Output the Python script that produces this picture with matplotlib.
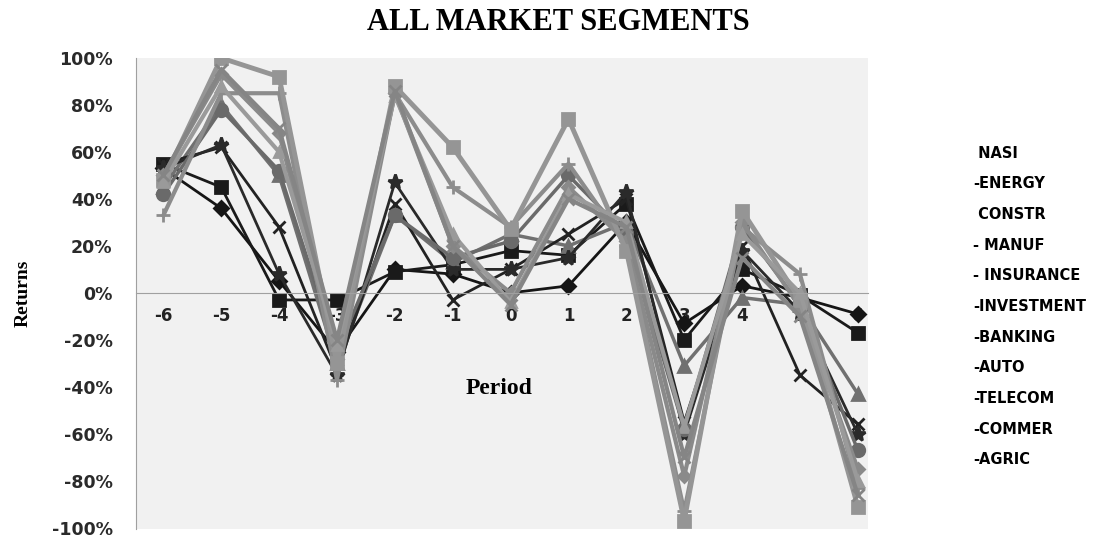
import matplotlib
matplotlib.use("Agg")
import matplotlib.pyplot as plt
from matplotlib.ticker import FuncFormatter

plt.rcParams["axes.unicode_minus"] = False

# periods around the event
periods = [-6, -5, -4, -3, -2, -1, 0, 1, 2, 3, 4, 5, 6]

# returns in %
nasi = [53, 36, 5, -25, 10, 8, 0, 3, 30, -13, 3, -2, -9]
energy = [55, 45, -3, -3, 9, 12, 18, 16, 38, -20, 10, -1, -17]
constr = [45, 80, 50, -30, 33, 13, 25, 20, 30, -31, -2, -5, -43]
manuf = [55, 62, 28, -33, 38, -3, 10, 25, 40, -55, 20, -35, -56]
insurance = [53, 63, 8, -35, 47, 10, 10, 15, 43, -60, 18, -8, -60]
investment = [42, 78, 52, -25, 33, 15, 22, 50, 25, -58, 28, -5, -67]
banking = [33, 85, 85, -37, 85, 45, 28, 55, 20, -93, 28, 8, -83]
auto = [50, 93, 68, -28, 85, 20, 0, 45, 22, -78, 30, -6, -75]
telecom = [48, 100, 92, -30, 88, 62, 27, 74, 18, -97, 35, -3, -91]
commer = [47, 88, 60, -22, 84, 25, -4, 42, 30, -57, 25, 0, -80]
agric = [50, 95, 70, -20, 86, 20, -5, 40, 28, -70, 15, -10, -86]

segments = ["NASI", "ENERGY", "CONSTR", "MANUF", "INSURANCE", "INVESTMENT",
            "BANKING", "AUTO", "TELECOM", "COMMER", "AGRIC"]
legendText = [" NASI", "-ENERGY", " CONSTR", "- MANUF", "- INSURANCE",
              "-INVESTMENT", "-BANKING", "-AUTO", "-TELECOM", "-COMMER", "-AGRIC"]
allSeries = [nasi, energy, constr, manuf, insurance, investment,
             banking, auto, telecom, commer, agric]

# excel-like marker cycle, printed in grey
styles = [
  ("D", "#151515", 2.0, 7),
  ("s", "#1a1a1a", 2.0, 8),
  ("^", "#707070", 2.5, 8),
  ("x", "#222222", 2.0, 9),
  ("*", "#2a2a2a", 2.0, 11),
  ("o", "#6a6a6a", 2.5, 9),
  ("+", "#8c8c8c", 3.0, 10),
  ("D", "#8a8a8a", 3.0, 6),
  ("s", "#959595", 3.5, 9),
  ("^", "#9a9a9a", 3.0, 7),
  ("x", "#858585", 3.0, 8),
]

fig = plt.figure(figsize=(11.16, 5.37), dpi=100)
ax = fig.add_axes([0.122, 0.015, 0.656, 0.877])
ax.set_facecolor("#f1f1f1")

for i in range(len(allSeries)):
  m, c, lw, ms = styles[i]
  vals = [v / 100 for v in allSeries[i]]
  ax.plot(periods, vals, marker=m, color=c, lw=lw, ms=ms,
          mew=2, label=segments[i])

ax.set_xlim(-6.47, 6.18)
ax.set_ylim(-1.005, 1.0)
ax.set_yticks([-1, -0.8, -0.6, -0.4, -0.2, 0, 0.2, 0.4, 0.6, 0.8, 1.0])
ax.yaxis.set_major_formatter(FuncFormatter(lambda v, p: f"{v*100:.0f}%"))
ax.set_xticks(periods)

# x axis sits on the zero line
ax.spines["bottom"].set_position(("data", 0))
ax.spines["bottom"].set_color("#a0a0a0")
ax.spines["left"].set_color("#a0a0a0")
ax.spines["top"].set_visible(False)
ax.spines["right"].set_visible(False)
ax.tick_params(axis="both", length=0)
ax.tick_params(axis="x", pad=10, labelsize=12, labelcolor="#222222")
ax.tick_params(axis="y", pad=17, labelsize=12.5, labelcolor="#2a2a2a")
for lab in ax.get_xticklabels() + ax.get_yticklabels():
  lab.set_fontweight("bold")

ax.text(-0.2, -0.405, "Period", ha="center", va="center",
        fontsize=17, fontweight="bold", family="Liberation Serif")
fig.text(0.021, 0.454, "Returns", rotation=90, ha="center", va="center",
         fontsize=14, fontweight="bold", family="Liberation Serif")

fig.text(0.5, 0.958, "ALL MARKET SEGMENTS", ha="center", va="center",
         fontsize=22, fontweight="bold", family="Liberation Serif")

# legend as plain text list on the right
for i in range(len(legendText)):
  fig.text(0.872, 1 - (153 + i * 30.7) / 537, legendText[i],
           ha="left", va="center", fontsize=10.5, fontweight="bold",
           family="DejaVu Sans")

fig.savefig("out.png", dpi=100)
